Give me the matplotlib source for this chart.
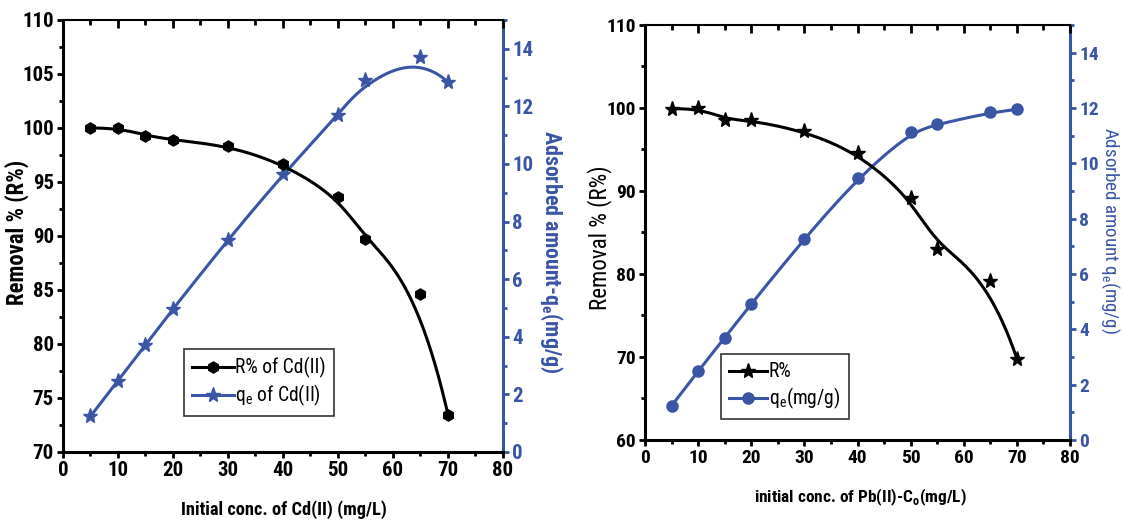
import numpy as np
import matplotlib
matplotlib.use("Agg")
import matplotlib.pyplot as plt
from matplotlib.ticker import MultipleLocator
from matplotlib import font_manager

# ---------------- data ----------------
conc = [5, 10, 15, 20, 30, 40, 50, 55, 65, 70]
removal_cd = [100.0, 100.0, 99.3, 98.9, 98.35, 96.7, 93.6, 89.7, 84.6, 73.45]
qe_cd = [1.24, 2.48, 3.72, 4.97, 7.37, 9.64, 11.70, 12.90, 13.72, 12.84]
removal_pb = [99.9, 100.0, 98.6, 98.5, 97.2, 94.6, 89.2, 83.0, 79.2, 69.8]
qe_pb = [1.24, 2.49, 3.70, 4.92, 7.28, 9.46, 11.13, 11.41, 11.84, 11.95]

BLUE = "#3a55a6"

# pick a narrow / condensed sans font if one is installed
FONT, STRETCH = "Liberation Sans", "normal"
entries = font_manager.fontManager.ttflist
names = {f.name for f in entries}
for nm in ["Liberation Sans Narrow", "Roboto Condensed", "Open Sans Condensed"]:
    if nm in names:
        FONT = nm
        break
else:
    for f in entries:
        if f.name in ("DejaVu Sans", "Open Sans", "Noto Sans", "Roboto") and \
                str(f.stretch) in ("condensed", "semi-condensed", "75", "87.5"):
            FONT, STRETCH = f.name, "condensed"
            break
plt.rcParams["font.family"] = [FONT, "DejaVu Sans"]
plt.rcParams["font.stretch"] = STRETCH


def bspline(xs, ys, n=300, k=3):
    """Clamped cubic B-spline using data points as control points (Origin style)."""
    P = np.column_stack([xs, ys]).astype(float)
    m = len(P)
    inner = np.linspace(0, 1, m - k + 1)
    t = np.concatenate([np.zeros(k), inner, np.ones(k)])
    out = []
    for u in np.linspace(0, 1, n):
        j = m - 1 if u >= 1 else np.searchsorted(t, u, side="right") - 1
        j = min(j, m - 1)
        d = [P[j - k + i].copy() for i in range(k + 1)]
        for r in range(1, k + 1):
            for i in range(k, r - 1, -1):
                den = t[i + 1 + j - r] - t[i + j - k]
                a = 0 if den == 0 else (u - t[i + j - k]) / den
                d[i] = (1 - a) * d[i - 1] + a * d[i]
        out.append(d[k])
    out = np.array(out)
    return out[:, 0], out[:, 1]


fig = plt.figure(figsize=(11.23, 5.23), dpi=100)
renderer = fig.canvas.get_renderer()


def fit(text, target_px):
    """Scale a text's font size so its long side spans target_px pixels."""
    for _ in range(3):
        bb = text.get_window_extent(renderer)
        cur = max(bb.width, bb.height)
        if cur > 0:
            text.set_fontsize(text.get_fontsize() * target_px / cur)


def style_axes(ax, ax2, ylim, ymaj, ymin, labelsize):
    ax.set_xlim(0, 80)
    ax.set_ylim(*ylim)
    ax2.set_ylim(0, 15)
    ax.xaxis.set_major_locator(MultipleLocator(10))
    ax.xaxis.set_minor_locator(MultipleLocator(5))
    ax.yaxis.set_major_locator(MultipleLocator(ymaj))
    ax.yaxis.set_minor_locator(MultipleLocator(ymin))
    ax2.yaxis.set_major_locator(MultipleLocator(2))
    ax2.yaxis.set_minor_locator(MultipleLocator(1))
    for s in ["left", "bottom"]:
        ax.spines[s].set_linewidth(2.2)
    ax.spines["top"].set_linewidth(1.5)
    ax.spines["right"].set_visible(False)
    for s in ["left", "bottom", "top"]:
        ax2.spines[s].set_visible(False)
    ax2.spines["right"].set_color(BLUE)
    ax2.spines["right"].set_linewidth(2.2)
    ax.tick_params(axis="both", which="major", direction="out", length=4.5, width=2,
                   labelsize=labelsize, pad=2)
    ax.tick_params(axis="both", which="minor", direction="out", length=3, width=2)
    ax.tick_params(axis="x", which="both", top=True)
    ax2.tick_params(axis="y", which="major", direction="out", length=4.5, width=2,
                    colors=BLUE, labelsize=labelsize, pad=2)
    ax2.tick_params(axis="y", which="minor", direction="out", length=3, width=2, colors=BLUE)
    fig.canvas.draw()
    for lab in ax.get_xticklabels() + ax.get_yticklabels() + ax2.get_yticklabels():
        lab.set_fontweight("bold")
    # top ticks point inward
    for t in ax.xaxis.get_major_ticks():
        t.tick2line.set_marker(3)
        t.tick2line.set_markersize(6)
        t.tick2line.set_markeredgewidth(2)
    for t in ax.xaxis.get_minor_ticks():
        t.tick2line.set_marker(3)
        t.tick2line.set_markersize(3.5)
        t.tick2line.set_markeredgewidth(2)


def place_labels(ax, ax2, xl, yl, yr, xc, ylc, yrc):
    ax.xaxis.set_label_coords(*xc)
    ax.yaxis.set_label_coords(*ylc)
    ax2.yaxis.set_label_coords(*yrc)
    for t in (xl, yl, yr):
        t.set_rotation_mode("anchor")
        t.set_ha("center")
        t.set_va("center")


# ---------------- left panel ----------------
ax = fig.add_axes([0.0561, 0.1358, 0.3918, 0.8260])
ax2 = ax.twinx()
ax2.set_position([0.0561, 0.1358, 0.3918, 0.8260])
ax.set_zorder(ax2.get_zorder() + 1)
ax.patch.set_visible(False)

bx, by = bspline(conc, removal_cd)
ax.plot(bx, by, color="black", lw=2.2)
ax.plot(conc, removal_cd, ls="none", marker="h", ms=8, color="black")
bx, by = bspline(conc, qe_cd)
ax2.plot(bx, by, color=BLUE, lw=2.2)
ax2.plot(conc, qe_cd, ls="none", marker="*", ms=11, color=BLUE)

style_axes(ax, ax2, (70, 110), 5, 2.5, 15)
xl = ax.set_xlabel("Initial conc. of Cd(II) (mg/L)", fontsize=13, fontweight="bold")
yl = ax.set_ylabel("Removal % (R%)", fontsize=13, fontweight="bold")
yr = ax2.set_ylabel(r"Adsorbed amount-q$_\mathregular{e}$(mg/g)", fontsize=13, fontweight="bold",
                    color=BLUE, rotation=270)
place_labels(ax, ax2, xl, yl, yr, (0.502, -0.134), (-0.105, 0.508), (1.111, 0.464))
fit(xl, 205)
fit(yl, 145)
fit(yr, 243)

h1, = ax.plot([], [], color="black", lw=2.2, marker="h", ms=8)
h2, = ax.plot([], [], color=BLUE, lw=2.2, marker="*", ms=11)
leg = ax.legend([h1, h2], ["R% of Cd(II)", r"q$_\mathregular{e}$ of Cd(II)"],
                loc="upper left", bbox_to_anchor=(121 / 440, (452 - 349) / 432),
                fontsize=13, frameon=True, fancybox=False, edgecolor="black",
                handlelength=2.3, handletextpad=0.1, borderpad=0.45, labelspacing=0.25,
                borderaxespad=0)
leg.get_frame().set_linewidth(1.2)
fit(leg.get_texts()[0], 91)
leg.get_texts()[1].set_fontsize(leg.get_texts()[0].get_fontsize())

# ---------------- right panel ----------------
bx_ = fig.add_axes([0.5744, 0.1587, 0.3784, 0.7935])
bx2 = bx_.twinx()
bx2.set_position([0.5744, 0.1587, 0.3784, 0.7935])
bx_.set_zorder(bx2.get_zorder() + 1)
bx_.patch.set_visible(False)

cx, cy = bspline(conc, removal_pb)
bx_.plot(cx, cy, color="black", lw=2.2)
bx_.plot(conc, removal_pb, ls="none", marker="*", ms=11, color="black")
cx, cy = bspline(conc, qe_pb)
bx2.plot(cx, cy, color=BLUE, lw=2.2)
bx2.plot(conc, qe_pb, ls="none", marker="o", ms=8, color=BLUE)

style_axes(bx_, bx2, (60, 110), 10, 5, 14)
xl2 = bx_.set_xlabel(r"initial conc. of Pb(II)-C$_\mathregular{o}$(mg/L)", fontsize=13,
                     fontweight="bold")
yl2 = bx_.set_ylabel("Removal % (R%)", fontsize=13)
yr2 = bx2.set_ylabel(r"Adsorbed amount q$_\mathregular{e}$(mg/g)", fontsize=13,
                     color=BLUE, rotation=270)
place_labels(bx_, bx2, xl2, yl2, yr2, (0.506, -0.137), (-0.107, 0.487), (1.095, 0.504))
fit(xl2, 212)
fit(yl2, 144)
fit(yr2, 208)

k1, = bx_.plot([], [], color="black", lw=2.2, marker="*", ms=11)
k2, = bx_.plot([], [], color=BLUE, lw=2.2, marker="o", ms=8)
leg2 = bx_.legend([k1, k2], ["R%", r"q$_\mathregular{e}$(mg/g)"],
                  loc="upper left", bbox_to_anchor=((721 - 645) / 425, (440 - 354) / 415),
                  fontsize=13, frameon=True, fancybox=False, edgecolor="black",
                  handlelength=2.1, handletextpad=0.1, borderpad=0.45, labelspacing=0.25,
                  borderaxespad=0)
leg2.get_frame().set_linewidth(1.2)
leg2.get_texts()[0].set_fontsize(leg.get_texts()[0].get_fontsize())
leg2.get_texts()[1].set_fontsize(leg.get_texts()[0].get_fontsize())

fig.savefig("out.png", dpi=100)
